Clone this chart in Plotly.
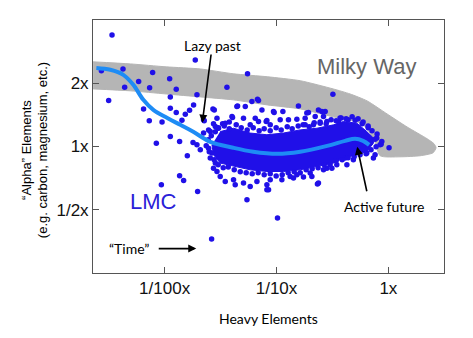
import plotly.graph_objects as go

# ---- axes (log units: [Fe/H] in dex, [alpha/Fe] in dex) ----
x_ticks = [-2, -1, 0]
x_labels = ["1/100x", "1/10x", "1x"]
y_ticks = [-0.30103, 0.0, 0.30103]
y_labels = ["1/2x", "1x", "2x"]

# ---- Milky Way band ----
mw_upper_x = [-2.639, -2.306, -1.985, -1.681, -1.387, -1.083, -0.788, -0.494, -0.342, -0.190, -0.012, 0.167, 0.346, 0.408, 0.426]
mw_upper_y = [0.403, 0.393, 0.379, 0.369, 0.346, 0.332, 0.313, 0.274, 0.250, 0.217, 0.155, 0.093, 0.037, 0.013, -0.006]
mw_lower_x = [0.399, 0.283, 0.104, -0.074, -0.128, -0.235, -0.494, -0.788, -1.083, -1.387, -1.681, -1.985, -2.306, -2.639]
mw_lower_y = [-0.030, -0.044, -0.049, -0.044, 0.032, 0.108, 0.141, 0.179, 0.198, 0.222, 0.236, 0.250, 0.265, 0.274]

# ---- LMC mean trend ----
trend_x = [-2.610, -2.485, -2.369, -2.280, -2.190, -2.101, -1.976, -1.860, -1.744, -1.592, -1.387, -1.208, -0.994, -0.788, -0.547, -0.387, -0.297, -0.226, -0.172]
trend_y = [0.374, 0.365, 0.341, 0.294, 0.222, 0.174, 0.136, 0.103, 0.070, 0.022, -0.006, -0.025, -0.035, -0.025, 0.003, 0.027, 0.037, 0.027, 0.008]

# ---- dense LMC star core (outline of the crowded region) ----
core_x = [-1.503, -1.384, -1.235, -1.086, -0.938, -0.789, -0.639, -0.491, -0.402, -0.282, -0.193, -0.134, -0.134,
          -0.193, -0.282, -0.402, -0.491, -0.639, -0.789, -0.938, -1.086, -1.235, -1.384, -1.503, -1.563, -1.577]
core_y = [0.071, 0.087, 0.064, 0.056, 0.064, 0.079, 0.087, 0.103, 0.119, 0.111, 0.071, 0.040, 0.016,
          -0.024, -0.039, -0.055, -0.079, -0.095, -0.111, -0.119, -0.119, -0.111, -0.095, -0.079, -0.039, 0.008]

# ---- individual LMC stars (scattered) ----
star_feh = [
    -2.470, -2.565, -2.372, -2.232, -2.357, -2.107, -2.134, -1.955, -1.896, -2.500,
    -2.188, -2.137, -2.023, -1.949, -1.949, -1.726, -1.259, -1.443, -1.170, -0.496,
    -1.711, -1.896, -1.815, -1.777, -1.845, -1.741, -1.646, -1.532, -1.949, -2.074,
    -1.866, -1.797, -1.746, -1.711, -1.681, -1.652, -1.592, -1.568, -1.563, -1.482,
    -1.518, -1.422, -1.398, -1.348, -1.279, -1.220, -1.161, -1.866, -1.830, -2.029,
    -1.705, -1.264, -0.991, -1.580, -0.634, 0.006, -0.065, -0.119, -1.556, -1.130,
    -1.027, -0.943, -0.804, -0.714, -0.565, -1.393, -1.295, -1.190, -1.086, -0.893,
    -0.818, -0.744, -0.654, -0.610, -1.652, -1.547, -1.607, -1.021, -0.729, -0.595,
    -1.092, -0.967, -0.744, -0.670, -0.550, -0.446, -1.086, -1.056, -0.952, -0.848,
    -0.759, -0.684, -0.625, -0.580, -0.505, -0.387, -0.253, -0.193, -0.163, -0.104,
    -1.563, -1.532, -1.503, -1.458, -1.384, -1.369, -1.295, -1.235, -1.175, -1.086,
    -1.071, -0.878, -0.818, -0.699, -0.550, -0.461, -0.371, -0.313, -0.134, -0.119,
    -0.074, -0.059, -1.354, -1.458, -1.235, -1.161, -1.056, -0.625, -0.580, -1.607,
    -1.592, -1.547, -1.577, -0.432, -0.360, -0.297, -0.235, -0.181,
]
star_afe = [
    0.531, 0.361, 0.369, 0.309, 0.282, 0.352, 0.280, 0.323, 0.273, 0.219,
    0.178, 0.122, 0.116, 0.235, 0.182, 0.412, 0.346, 0.282, 0.225, 0.249,
    0.246, 0.162, 0.154, 0.172, 0.125, 0.198, 0.122, 0.135, 0.048, 0.016,
    0.024, -0.044, 0.019, 0.008, -0.016, 0.064, 0.071, 0.178, 0.108, 0.108,
    0.087, 0.116, 0.143, 0.193, 0.190, 0.214, 0.219, -0.139, -0.162, -0.182,
    -0.214, -0.253, -0.340, -0.440, -0.179, -0.006, 0.011, 0.035, 0.174, 0.174,
    0.166, 0.166, 0.193, 0.162, 0.166, 0.138, 0.135, 0.135, 0.124, 0.127,
    0.130, 0.135, 0.143, 0.111, 0.127, 0.095, 0.079, 0.162, 0.159, 0.166,
    0.119, 0.127, 0.103, 0.103, 0.119, 0.119, -0.206, -0.158, -0.158, -0.150,
    -0.145, -0.143, -0.174, -0.111, -0.103, -0.055, -0.016, -0.031, 0.016, 0.040,
    -0.103, -0.119, -0.143, -0.166, -0.158, -0.182, -0.174, -0.190, -0.166, -0.182,
    -0.206, -0.143, -0.135, -0.126, -0.103, -0.087, -0.087, -0.063, -0.055, -0.039,
    0.008, 0.024, 0.190, 0.111, 0.103, 0.119, 0.103, 0.174, 0.143, -0.008,
    -0.055, -0.079, -0.031, 0.136, 0.127, 0.125, 0.108, 0.089,
]

# ---- stars along the edge of the crowded region ----
edge_feh = [
    -1.521, -1.467, -1.422, -1.360, -1.315, -1.262, -1.208, -1.155, -1.110, -1.056,
    -1.003, -0.958, -0.904, -0.860, -0.806, -0.762, -0.708, -0.663, -0.610, -0.556,
    -0.512, -0.467, -0.422, -0.378, -0.324, -0.271, -0.226, -0.181, -0.146, -0.101,
    -1.557, -1.521, -1.476, -1.431, -1.378, -1.324, -1.271, -1.217, -1.164, -1.110,
    -1.056, -1.003, -0.949, -0.896, -0.842, -0.788, -0.735, -0.681, -0.628, -0.574,
    -0.521, -0.467, -0.413, -0.360, -0.306, -0.253, -0.199, -0.155, -0.110,
    -1.610, -1.628, -1.601, -1.583, -1.547,
]
edge_afe = [
    0.089, 0.098, 0.084, 0.103, 0.089, 0.079, 0.089, 0.075, 0.084, 0.075,
    0.089, 0.079, 0.094, 0.084, 0.098, 0.103, 0.094, 0.113, 0.117, 0.108,
    0.127, 0.122, 0.136, 0.132, 0.141, 0.132, 0.117, 0.098, 0.075, 0.060,
    -0.063, -0.087, -0.101, -0.097, -0.111, -0.120, -0.125, -0.130, -0.125, -0.135,
    -0.130, -0.140, -0.135, -0.125, -0.120, -0.125, -0.111, -0.106, -0.101, -0.087,
    -0.087, -0.068, -0.063, -0.054, -0.049, -0.039, -0.035, -0.016, -0.001,
    0.032, 0.003, -0.025, 0.051, 0.070,
]

BLUE = "#2010e8"

fig = go.Figure()

fig.add_trace(go.Scatter(
    x=mw_upper_x + mw_lower_x, y=mw_upper_y + mw_lower_y,
    mode="lines", fill="toself", fillcolor="#b5b5b5",
    line=dict(color="#b5b5b5", width=1, shape="spline", smoothing=0.6),
    hoverinfo="skip", showlegend=False))

fig.add_trace(go.Scatter(
    x=core_x, y=core_y, mode="lines", fill="toself", fillcolor=BLUE,
    line=dict(color=BLUE, width=1),
    hoverinfo="skip", showlegend=False))

fig.add_trace(go.Scatter(
    x=star_feh + edge_feh, y=star_afe + edge_afe, mode="markers",
    marker=dict(color=BLUE, size=5.5, line=dict(width=0)),
    showlegend=False))

fig.add_trace(go.Scatter(
    x=trend_x, y=trend_y, mode="lines",
    line=dict(color="#1e8cf5", width=4, shape="spline", smoothing=1.0),
    hoverinfo="skip", showlegend=False))

axis_common = dict(showgrid=False, zeroline=False, showline=True, linecolor="#555555",
                   linewidth=1, mirror="ticks", ticks="inside", ticklen=6,
                   tickcolor="#555555", tickfont=dict(family="Liberation Sans, Arial", size=17, color="#111111"))

fig.update_xaxes(range=[-2.64, 0.497], tickvals=x_ticks, ticktext=x_labels, **axis_common)
fig.update_yaxes(range=[-0.602, 0.602], tickvals=y_ticks, ticktext=y_labels, **axis_common)

ann_font = dict(family="Lato, Open Sans, sans-serif", size=14, color="#000000")
arrow = dict(showarrow=True, arrowhead=2, arrowsize=1, arrowwidth=1.6, arrowcolor="#000000",
             axref="x", ayref="y", text="")

fig.update_layout(
    width=473, height=338,
    margin=dict(l=93, r=29, t=20, b=65),
    paper_bgcolor="white", plot_bgcolor="white",
    annotations=[
        dict(x=-1.574, y=0.479, text="Lazy past", showarrow=False, font=ann_font),
        dict(x=-1.663, y=0.113, ax=-1.583, ay=0.445, **arrow),
        dict(x=-0.038, y=-0.287, text="Active future", showarrow=False, font=ann_font),
        dict(x=-0.279, y=-0.001, ax=-0.190, ay=-0.220, **arrow),
        dict(x=-2.316, y=-0.486, text="“Time”", showarrow=False, font=ann_font),
        dict(x=-1.717, y=-0.486, ax=-2.066, ay=-0.486, **arrow),
        dict(x=-0.199, y=0.379, text="Milky Way", showarrow=False,
             font=dict(family="Liberation Sans, Arial", size=22, color="#666666")),
        dict(x=-2.097, y=-0.263, text="LMC", showarrow=False,
             font=dict(family="Liberation Sans, Arial", size=22, color="#2a20d8")),
        dict(xref="paper", yref="paper", x=0.5, y=-0.181, text="Heavy Elements",
             showarrow=False, font=ann_font, xanchor="center", yanchor="middle"),
        dict(xref="paper", yref="paper", x=-0.167, y=0.487, textangle=-90,
             xanchor="center", yanchor="middle",
             text="“Alpha” Elements<br>(e.g. carbon, magnesium, etc.)", showarrow=False,
             font=dict(family="Liberation Sans, Arial", size=13, color="#000000")),
    ],
)

fig.write_html("out.html")
